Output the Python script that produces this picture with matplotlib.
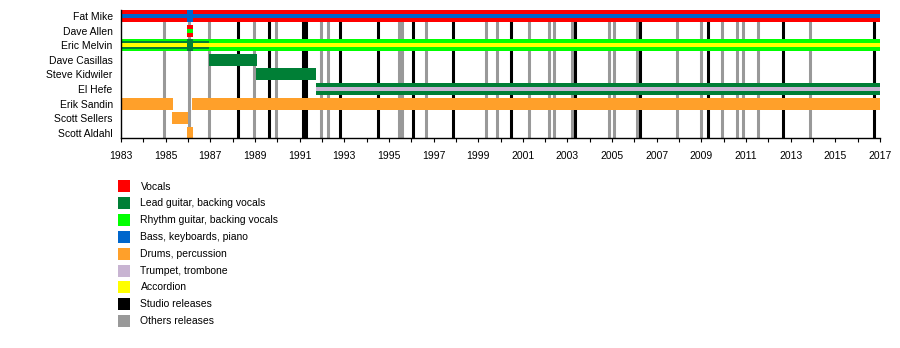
import matplotlib
matplotlib.use("Agg")
import matplotlib.pyplot as plt
from matplotlib.patches import Rectangle

plt.rcParams['font.family'] = ['Liberation Sans', 'DejaVu Sans']

members = ["Fat Mike", "Dave Allen", "Eric Melvin", "Dave Casillas", "Steve Kidwiler",
           "El Hefe", "Erik Sandin", "Scott Sellers", "Scott Aldahl"]

roles = ["Vocals", "Lead guitar, backing vocals", "Rhythm guitar, backing vocals",
         "Bass, keyboards, piano", "Drums, percussion", "Trumpet, trombone", "Accordion",
         "Studio releases", "Others releases"]
role_colors = ["#ff0000", "#007f36", "#00ff00", "#0066cc", "#ffa02a",
               "#c8b4d2", "#ffff00", "#000000", "#999999"]

# (member, start, end, role) - whole bar
main_spans = [
    ("Fat Mike", 1983.0, 2017.0, "Vocals"),
    ("Dave Allen", 1985.96, 1986.22, "Vocals"),
    ("Eric Melvin", 1983.0, 2017.0, "Rhythm guitar, backing vocals"),
    ("Dave Casillas", 1986.96, 1989.08, "Lead guitar, backing vocals"),
    ("Steve Kidwiler", 1989.05, 1991.72, "Lead guitar, backing vocals"),
    ("El Hefe", 1991.72, 2017.0, "Lead guitar, backing vocals"),
    ("Erik Sandin", 1983.0, 1985.33, "Drums, percussion"),
    ("Erik Sandin", 1986.2, 2017.0, "Drums, percussion"),
    ("Scott Sellers", 1985.3, 1985.98, "Drums, percussion"),
    ("Scott Aldahl", 1985.96, 1986.22, "Drums, percussion"),
]

# second role, drawn as a band inside the bar
mid_spans = [
    ("Eric Melvin", 1983.0, 1986.96, "Lead guitar, backing vocals"),
]
inner_spans = [
    ("Fat Mike", 1983.0, 2017.0, "Bass, keyboards, piano"),
    ("Dave Allen", 1985.96, 1986.22, "Rhythm guitar, backing vocals"),
    ("Eric Melvin", 1983.0, 2017.0, "Accordion"),
    ("El Hefe", 1991.72, 2017.0, "Trumpet, trombone"),
]

# short periods with only one role
solo_spans = [
    ("Fat Mike", 1985.96, 1986.22, "Bass, keyboards, piano"),
    ("Eric Melvin", 1985.96, 1986.22, "Lead guitar, backing vocals"),
]

studio_releases = [1988.23, 1989.65, 1991.15, 1991.27, 1992.81, 1994.53, 1996.07, 1997.85,
                   2000.46, 2003.33, 2006.25, 2009.31, 2012.67, 2016.75]
other_releases = [1984.94, 1986.05, 1986.96, 1988.98, 1989.95, 1991.97, 1992.29, 1995.44,
                  1995.6, 1996.65, 1999.37, 1999.86, 2001.27, 2002.16, 2002.39, 2003.21,
                  2004.84, 2005.08, 2006.13, 2007.9, 2009.0, 2009.9, 2010.61, 2010.88,
                  2011.55, 2013.88]

year_start = 1983
year_end = 2017


def draw_spans(ax, spans, height):
    for name, start, end, role in spans:
        row = members.index(name)
        ax.barh(row, end - start, left=start, height=height,
                color=role_colors[roles.index(role)], linewidth=0, zorder=3)


def main():
    fig = plt.figure(figsize=(9, 3.48), dpi=100)
    ax = fig.add_axes([121 / 900, 1 - 137.7 / 348, 759 / 900, 127.7 / 348])

    for x in other_releases:
        ax.axvline(x, color=role_colors[-1], linewidth=2.2, zorder=1)
    for x in studio_releases:
        ax.axvline(x, color=role_colors[-2], linewidth=2.2, zorder=2)

    row_px = 14.6
    draw_spans(ax, main_spans, 12 / row_px)
    draw_spans(ax, mid_spans, 8 / row_px)
    draw_spans(ax, inner_spans, 4 / row_px)
    draw_spans(ax, solo_spans, 12 / row_px)

    ax.set_xlim(year_start, year_end)
    ax.set_ylim((137.7 - 16) / row_px, -6 / row_px)
    ax.set_yticks(range(len(members)))
    ax.set_yticklabels(members, fontsize=7.5)
    ax.tick_params(axis='y', length=0, pad=6)

    ax.set_xticks(range(year_start, year_end + 1, 2))
    ax.set_xticks(range(year_start + 1, year_end, 2), minor=True)
    ax.tick_params(axis='x', which='both', direction='out', length=3, width=0.8,
                   labelsize=7.5, pad=6.5)

    for side in ['top', 'right']:
        ax.spines[side].set_visible(False)
    for side in ['left', 'bottom']:
        ax.spines[side].set_linewidth(1)
        ax.spines[side].set_zorder(5)

    # legend, one square per role
    for i, (label, color) in enumerate(zip(roles, role_colors)):
        y = 186.5 + 16.8 * i
        fig.add_artist(Rectangle((118 / 900, 1 - (y + 6) / 348), 12 / 900, 12 / 348,
                                 transform=fig.transFigure, color=color, linewidth=0))
        fig.text(140.5 / 900, 1 - y / 348, label, fontsize=7.5, va='center', ha='left')

    fig.savefig("out.png", dpi=100)


if __name__ == "__main__":
    main()
